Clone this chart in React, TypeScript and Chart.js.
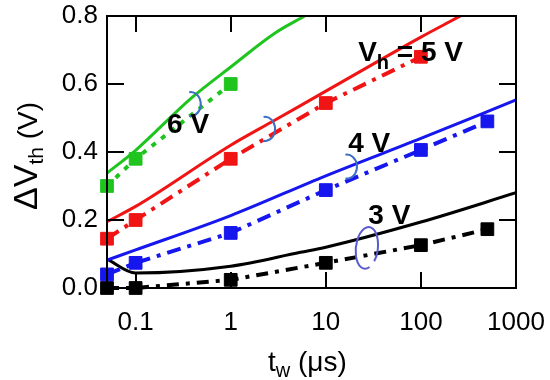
import React, { useEffect, useRef } from "react";
import { Chart, registerables } from "chart.js";

Chart.register(...registerables);

// ---- data ----
const X_TICKS = [0.1, 1, 10, 100, 1000];
const X_INNER_TICKS = [0.1, 1, 10, 100];
const Y_TICKS_INNER = [0.2, 0.4, 0.6];

// measured points (squares, dash-dot)
const green6X = [0.05, 0.1, 1];
const green6Y = [0.3, 0.38, 0.6];
const red5X = [0.05, 0.1, 1, 10, 100];
const red5Y = [0.145, 0.2, 0.38, 0.544, 0.68];
const blue4X = [0.05, 0.1, 1, 10, 100, 500];
const blue4Y = [0.04, 0.074, 0.162, 0.288, 0.406, 0.49];
const black3X = [0.05, 0.1, 1, 10, 100, 500];
const black3Y = [0.0, 0.0, 0.024, 0.074, 0.126, 0.173];

// model curves (solid)
const green6FitX = [0.05, 0.1, 0.39, 1, 2.93, 6, 10];
const green6FitY = [0.338, 0.405, 0.56, 0.65, 0.75, 0.8, 0.835];
const red5FitX = [0.05, 0.1, 1, 2.93, 10, 100, 260, 1000];
const red5FitY = [0.195, 0.24, 0.42, 0.494, 0.579, 0.738, 0.8, 0.89];
const blue4FitX = [0.05, 0.1, 1, 10, 100, 1000];
const blue4FitY = [0.082, 0.112, 0.213, 0.33, 0.44, 0.553];
const black3FitX = [0.05, 0.1, 1, 5.4, 10, 100, 1000];
const black3FitY = [0.085, 0.044, 0.064, 0.105, 0.12, 0.194, 0.28];

// labels (data-space anchors: left, baseline)
const labelTexts = ["6 V", "4 V", "3 V"];
const labelX = [0.214, 17.2, 28];
const labelY = [0.456, 0.4, 0.188];
const vhLabelX = 21.9;
const vhLabelY = 0.668;

// bracket arcs (data-space centres)
const arcX = [0.38, 2.3, 16.7];
const arcY = [0.541, 0.468, 0.357];
const ellipseX = 27;
const ellipseY = 0.118;

const GREEN = "#1fc41f";
const RED = "#f01414";
const BLUE = "#1616ee";
const BLACK = "#000000";
const ARC = "#3d6fc4";
const FONT = "'Liberation Sans', Arial, sans-serif";

const xy = (xs: number[], ys: number[]) => xs.map((x, i) => ({ x, y: ys[i] }));

const measured = (xs: number[], ys: number[], color: string, dash: number[]) => ({
  data: xy(xs, ys),
  showLine: true,
  borderColor: color,
  backgroundColor: color,
  borderWidth: 4,
  borderDash: dash,
  pointStyle: "rect",
  pointRadius: 9,
  pointBorderWidth: 1,
  pointBackgroundColor: color,
  pointBorderColor: color,
  clip: false,
  order: 0,
});

const fit = (xs: number[], ys: number[], color: string) => ({
  data: xy(xs, ys),
  showLine: true,
  borderColor: color,
  backgroundColor: color,
  borderWidth: 3,
  pointRadius: 0,
  cubicInterpolationMode: "monotone",
  clip: 0,
  order: 1,
});

const decorPlugin = {
  id: "decor",
  afterDatasetsDraw(chart: any) {
    const { ctx, chartArea, scales } = chart;
    const xs = scales.x;
    const ys = scales.y;
    ctx.save();
    // frame
    ctx.strokeStyle = "#000";
    ctx.lineWidth = 2;
    ctx.strokeRect(chartArea.left, chartArea.top, chartArea.right - chartArea.left, chartArea.bottom - chartArea.top);
    // inner ticks
    ctx.beginPath();
    X_INNER_TICKS.forEach((v) => {
      const px = Math.round(xs.getPixelForValue(v));
      ctx.moveTo(px, chartArea.bottom);
      ctx.lineTo(px, chartArea.bottom - 16);
      ctx.moveTo(px, chartArea.top);
      ctx.lineTo(px, chartArea.top + 16);
    });
    Y_TICKS_INNER.forEach((v) => {
      const py = Math.round(ys.getPixelForValue(v));
      ctx.moveTo(chartArea.left, py);
      ctx.lineTo(chartArea.left + 17, py);
      ctx.moveTo(chartArea.right, py);
      ctx.lineTo(chartArea.right - 17, py);
    });
    ctx.stroke();

    // bracket arcs
    ctx.strokeStyle = ARC;
    ctx.lineWidth = 2;
    arcX.forEach((v, i) => {
      const cx = xs.getPixelForValue(v);
      const cy = ys.getPixelForValue(arcY[i]);
      ctx.beginPath();
      ctx.ellipse(cx, cy, 10, 12, 0, -Math.PI * 0.55, Math.PI * 0.55);
      ctx.stroke();
    });
    ctx.strokeStyle = "#5a5ad2";
    ctx.beginPath();
    ctx.ellipse(xs.getPixelForValue(ellipseX), ys.getPixelForValue(ellipseY), 11, 21, 0.12, Math.PI * 0.35, Math.PI * 2.2);
    ctx.stroke();

    // labels
    ctx.fillStyle = "#000";
    ctx.textBaseline = "alphabetic";
    ctx.textAlign = "left";
    ctx.font = `bold 28px ${FONT}`;
    labelTexts.forEach((t, i) => {
      ctx.fillText(t, xs.getPixelForValue(labelX[i]), ys.getPixelForValue(labelY[i]));
    });
    let px = xs.getPixelForValue(vhLabelX);
    const py = ys.getPixelForValue(vhLabelY);
    ctx.fillText("V", px, py);
    px += ctx.measureText("V").width;
    ctx.font = `bold 20px ${FONT}`;
    ctx.fillText("h", px, py + 8);
    px += ctx.measureText("h").width;
    ctx.font = `bold 28px ${FONT}`;
    ctx.fillText(" = 5 V", px, py);

    // axis titles
    ctx.font = `28px ${FONT}`;
    let tx = 268;
    const tb = chart.height - 9;
    ctx.fillText("t", tx, tb);
    tx += ctx.measureText("t").width;
    ctx.font = `20px ${FONT}`;
    ctx.fillText("w", tx, tb + 6);
    tx += ctx.measureText("w").width;
    ctx.font = `28px ${FONT}`;
    ctx.fillText(" (\u03bcs)", tx, tb);

    ctx.translate(37, 210);
    ctx.rotate(-Math.PI / 2);
    let ty = 0;
    ctx.font = `34px ${FONT}`;
    ctx.fillText("\u0394V", ty, 0);
    ty += ctx.measureText("\u0394V").width;
    ctx.font = `21px ${FONT}`;
    ctx.fillText("th", ty, 6);
    ty += ctx.measureText("th").width;
    ctx.font = `28px ${FONT}`;
    ctx.fillText(" (V)", ty, 0);
    ctx.restore();
  },
};

export default function App() {
  const ref = useRef<HTMLCanvasElement | null>(null);
  useEffect(() => {
    document.body.style.margin = "0";
    const canvas = ref.current;
    if (!canvas) return;
    const chart = new Chart(canvas, {
      type: "scatter",
      data: {
        datasets: [
          measured(green6X, green6Y, GREEN, [5, 7]),
          measured(red5X, red5Y, RED, [14, 7, 4, 7]),
          measured(blue4X, blue4Y, BLUE, [14, 7, 4, 7]),
          measured(black3X, black3Y, BLACK, [12, 7, 4, 7]),
          fit(green6FitX, green6FitY, GREEN),
          fit(red5FitX, red5FitY, RED),
          fit(blue4FitX, blue4FitY, BLUE),
          fit(black3FitX, black3FitY, BLACK),
        ] as any,
      },
      options: {
        animation: false,
        responsive: false,
        devicePixelRatio: 1,
        layout: { padding: { top: 16, right: 34, left: 0, bottom: 0 } },
        plugins: { legend: { display: false }, tooltip: { enabled: false } },
        scales: {
          x: {
            type: "logarithmic",
            min: 0.05,
            max: 1000,
            grid: { display: false, drawTicks: false },
            border: { display: false },
            afterBuildTicks: (s: any) => {
              s.ticks = X_TICKS.map((v) => ({ value: v }));
            },
            afterFit: (s: any) => {
              s.height = 92;
              s.paddingLeft = 0;
              s.paddingRight = 0;
              s.paddingTop = 0;
              s.paddingBottom = 0;
            },
            ticks: {
              autoSkip: false,
              maxRotation: 0,
              padding: 19,
              color: "#000",
              font: { family: FONT, size: 26 },
              callback: (v: any) => String(v),
            },
          },
          y: {
            min: 0,
            max: 0.8,
            grid: { display: false, drawTicks: false },
            border: { display: false },
            afterFit: (s: any) => {
              s.width = 107;
              s.paddingLeft = 0;
              s.paddingRight = 0;
              s.paddingTop = 0;
              s.paddingBottom = 0;
            },
            ticks: {
              stepSize: 0.2,
              padding: 9,
              color: "#000",
              font: { family: FONT, size: 26 },
              callback: (v: any) => Number(v).toFixed(1),
            },
          },
        },
      } as any,
      plugins: [decorPlugin],
    });
    return () => chart.destroy();
  }, []);
  return (
    <div style={{ width: 550, height: 380 }}>
      <canvas ref={ref} width={550} height={380} />
    </div>
  );
}
